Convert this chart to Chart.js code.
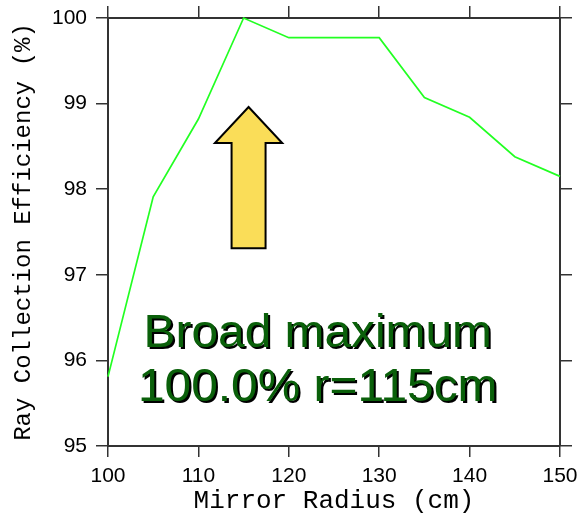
<!DOCTYPE html>
<html>
<head>
<meta charset="utf-8">
<script src="https://cdn.jsdelivr.net/npm/chart.js@4/dist/chart.umd.min.js"></script>
<style>
  html, body { margin: 0; padding: 0; background: #ffffff; }
  #wrap { width: 580px; height: 514px; }
</style>
</head>
<body>
<div id="wrap"><canvas id="c" width="580" height="514"></canvas></div>
<script>
// Mirror radius scan: ray collection efficiency vs radius
const radiusCm = [100, 105, 110, 115, 120, 125, 130, 135, 140, 145, 150];
const efficiencyPct = [95.81, 97.91, 98.82, 100.0, 99.77, 99.77, 99.77, 99.07, 98.84, 98.38, 98.15];
const xTicks = [100, 110, 120, 130, 140, 150];
const yTicks = [95, 96, 97, 98, 99, 100];
const noteLines = ['Broad maximum', '100.0% r=115cm'];

const points = radiusCm.map((r, i) => ({ x: r, y: efficiencyPct[i] }));

const AXIS_COLOR = '#333333';
const tickFont = { family: '"Liberation Sans", Arial, sans-serif', size: 21 };
const xTitleFont = { family: '"Liberation Mono", "Courier New", monospace', size: 26 };
const yTitleFont = { family: '"Liberation Mono", "Courier New", monospace', size: 24 };

// Give each axis a fixed thickness and drop the label overflow padding
function fixed(prop, px) {
  return function (scale) {
    scale[prop] = px;
    scale.paddingTop = 0;
    scale.paddingBottom = 0;
    scale.paddingLeft = 0;
    scale.paddingRight = 0;
  };
}

function tickList(values) {
  return function (scale) { scale.ticks = values.map(v => ({ value: v })); };
}

// Up-arrow and annotation text, placed in data coordinates
const arrowGeom = { x: 115.55, tip: 98.96, head: 98.54, base: 97.31, halfShaft: 1.88, halfHead: 3.72 };
const noteGeom = { x: 123.2, baselines: [96.16, 95.53] };

const annotate = {
  id: 'annotate',
  afterDatasetsDraw(chart) {
    const { ctx, scales: { x, y } } = chart;
    const px = v => x.getPixelForValue(v);
    const py = v => y.getPixelForValue(v);
    const a = arrowGeom;
    ctx.save();
    ctx.beginPath();
    ctx.moveTo(px(a.x), py(a.tip));
    ctx.lineTo(px(a.x + a.halfHead), py(a.head));
    ctx.lineTo(px(a.x + a.halfShaft), py(a.head));
    ctx.lineTo(px(a.x + a.halfShaft), py(a.base));
    ctx.lineTo(px(a.x - a.halfShaft), py(a.base));
    ctx.lineTo(px(a.x - a.halfShaft), py(a.head));
    ctx.lineTo(px(a.x - a.halfHead), py(a.head));
    ctx.closePath();
    ctx.fillStyle = '#fadd58';
    ctx.fill();
    ctx.lineWidth = 2;
    ctx.lineJoin = 'miter';
    ctx.strokeStyle = '#000000';
    ctx.stroke();

    ctx.font = '46px "Liberation Sans", Arial, sans-serif';
    ctx.textAlign = 'center';
    ctx.textBaseline = 'alphabetic';
    const stretch = 1.04;
    noteLines.forEach((t, i) => {
      const tx = px(noteGeom.x);
      const ty = py(noteGeom.baselines[i]);
      ctx.save();
      ctx.translate(tx, ty);
      ctx.scale(stretch, 1);
      ctx.fillStyle = '#000000';
      ctx.fillText(t, 2, 2);
      ctx.fillStyle = '#0a600a';
      ctx.fillText(t, 0, 0);
      ctx.restore();
    });
    ctx.restore();
  }
};

new Chart(document.getElementById('c'), {
  type: 'line',
  data: {
    datasets: [{
      data: points,
      borderColor: '#22ff22',
      borderWidth: 1.7,
      pointRadius: 0,
      tension: 0,
      fill: false,
      clip: false,
      xAxisID: 'x',
      yAxisID: 'y'
    }]
  },
  plugins: [annotate],
  options: {
    responsive: false,
    animation: false,
    layout: { padding: 0 },
    plugins: { legend: { display: false }, tooltip: { enabled: false } },
    scales: {
      x: {
        type: 'linear',
        position: 'bottom',
        min: 100, max: 150,
        afterBuildTicks: tickList(xTicks),
        afterFit: fixed('height', 68),
        grid: { drawOnChartArea: false, tickLength: 11, color: AXIS_COLOR, lineWidth: 1.5 },
        border: { display: true, color: AXIS_COLOR, width: 2 },
        ticks: { color: '#000000', font: tickFont, padding: 7, maxRotation: 0 },
        title: { display: true, text: 'Mirror Radius (cm)', color: '#000000', font: xTitleFont, padding: { top: 0, bottom: -3 } }
      },
      xTop: {
        type: 'linear',
        position: 'top',
        min: 100, max: 150,
        afterBuildTicks: tickList(xTicks),
        afterFit: fixed('height', 18),
        grid: { drawOnChartArea: false, tickLength: 12, color: AXIS_COLOR, lineWidth: 1.5 },
        border: { display: true, color: AXIS_COLOR, width: 2 },
        ticks: { display: false }
      },
      y: {
        type: 'linear',
        position: 'left',
        min: 95, max: 100,
        afterBuildTicks: tickList(yTicks),
        afterFit: fixed('width', 108),
        grid: { drawOnChartArea: false, tickLength: 12, color: AXIS_COLOR, lineWidth: 1.5 },
        border: { display: true, color: AXIS_COLOR, width: 2 },
        ticks: { color: '#000000', font: tickFont, padding: 9 },
        title: { display: true, text: 'Ray Collection Efficiency (%)', color: '#000000', font: yTitleFont, padding: { top: 9, bottom: 0 } }
      },
      yRight: {
        type: 'linear',
        position: 'right',
        min: 95, max: 100,
        afterBuildTicks: tickList(yTicks),
        afterFit: fixed('width', 20),
        grid: { drawOnChartArea: false, tickLength: 12, color: AXIS_COLOR, lineWidth: 1.5 },
        border: { display: true, color: AXIS_COLOR, width: 2 },
        ticks: { display: false }
      }
    }
  }
});
</script>
</body>
</html>
